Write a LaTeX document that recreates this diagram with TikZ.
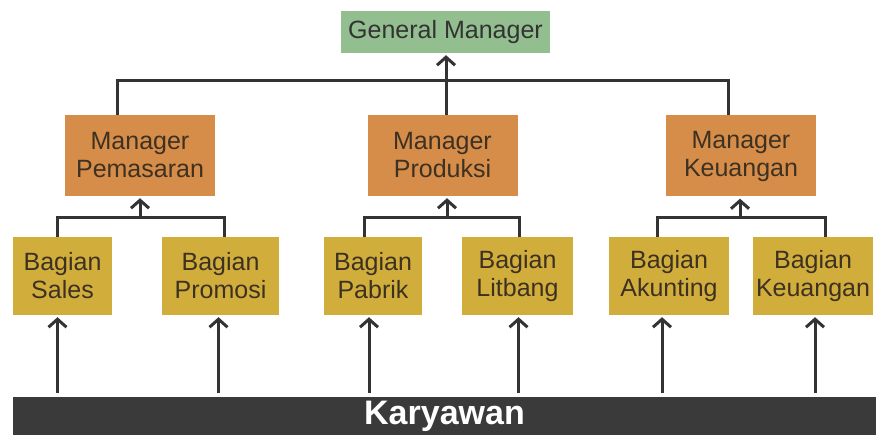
\documentclass[tikz,border=0pt]{standalone}
\usepackage{fontspec}
\setmainfont{Liberation Sans}
\usetikzlibrary{arrows.meta}

\definecolor{gmgreen}{HTML}{93BE8F}
\definecolor{mgrorange}{HTML}{D68D4A}
\definecolor{bagyellow}{HTML}{D1AE3C}
\definecolor{linegray}{HTML}{333333}
\definecolor{bargray}{HTML}{3A3A3A}
\definecolor{txtbrown}{HTML}{3D3122}

% two centred lines that do not widen the box
\newcommand{\twolines}[2]{\makebox[0pt]{#1}\\\makebox[0pt]{#2}}

\begin{document}
\begin{tikzpicture}[x=1pt, y=-1pt,
    boxfont/.style={font=\fontsize{25}{28}\selectfont, align=center, inner sep=0pt},
    gmbox/.style={boxfont, fill=gmgreen, text=linegray, minimum width=209pt, minimum height=42pt},
    mgrbox/.style={boxfont, fill=mgrorange, text=txtbrown, minimum width=150pt, minimum height=81pt},
    bagbox/.style={boxfont, fill=bagyellow, text=txtbrown, minimum height=78pt},
    barbox/.style={fill=bargray, text=white, inner sep=0pt, minimum width=863pt, minimum height=38pt,
        font=\fontsize{34}{36}\selectfont\bfseries},
    conn/.style={draw=linegray, line width=3pt},
    arr/.style={conn, -{Straight Barb[length=8pt, width=18pt]}, shorten >=2pt}
]
    \useasboundingbox (0,0) rectangle (876,435);

    \node[gmbox] (gm) at (445.5,32) {General Manager};

    \node[mgrbox] (mpem) at (140,155.5) {\twolines{Manager}{Pemasaran}};
    \node[mgrbox] (mprod) at (442.5,155.5) {\twolines{Manager}{Produksi}};
    \node[mgrbox] (mkeu) at (741,156) {\twolines{Manager}{Keuangan}};

    \node[bagbox, minimum width=99pt] (sales) at (62.5,276) {\twolines{Bagian}{Sales}};
    \node[bagbox, minimum width=117pt] (promosi) at (220.5,276) {\twolines{Bagian}{Promosi}};
    \node[bagbox, minimum width=98pt] (pabrik) at (373,276) {\twolines{Bagian}{Pabrik}};
    \node[bagbox, minimum width=111pt] (litbang) at (517.5,276) {\twolines{Bagian}{Litbang}};
    \node[bagbox, minimum width=120pt] (akunting) at (669,276) {\twolines{Bagian}{Akunting}};
    \node[bagbox, minimum width=120pt] (bkeu) at (813,276) {\twolines{Bagian}{Keuangan}};

    \node[barbox] (kary) at (444.5,416) {Karyawan};

    % junctions of the brackets
    \coordinate (top) at (446,81);
    \coordinate (jpem) at (140,218);
    \coordinate (jprod) at (447,218);
    \coordinate (jkeu) at (740,218);

    % managers to general manager
    \draw[conn] ([xshift=-23pt]mpem.north) |- (top) -| ([xshift=-13pt]mkeu.north);
    \draw[arr] ([xshift=3.5pt]mprod.north) -- (gm.south -| top);

    % bagian to managers
    \draw[conn] ([xshift=-5pt]sales.north) |- (jpem) -| ([xshift=4pt]promosi.north);
    \draw[arr] (jpem) -- (mpem.south -| jpem);
    \draw[conn] ([xshift=-9pt]pabrik.north) |- (jprod) -| ([xshift=2pt]litbang.north);
    \draw[arr] (jprod) -- (mprod.south -| jprod);
    \draw[conn] ([xshift=-12pt]akunting.north) |- (jkeu) -| ([xshift=12pt]bkeu.north);
    \draw[arr] (jkeu) -- (mkeu.south -| jkeu);

    % karyawan to bagian
    \foreach \n/\d in {sales/-5, promosi/-2, pabrik/-4, litbang/1, akunting/-7, bkeu/2}
        \draw[arr, shorten <=4pt] ([xshift=\d pt]kary.north -| \n.south) -- ([xshift=\d pt]\n.south);
\end{tikzpicture}
\end{document}
